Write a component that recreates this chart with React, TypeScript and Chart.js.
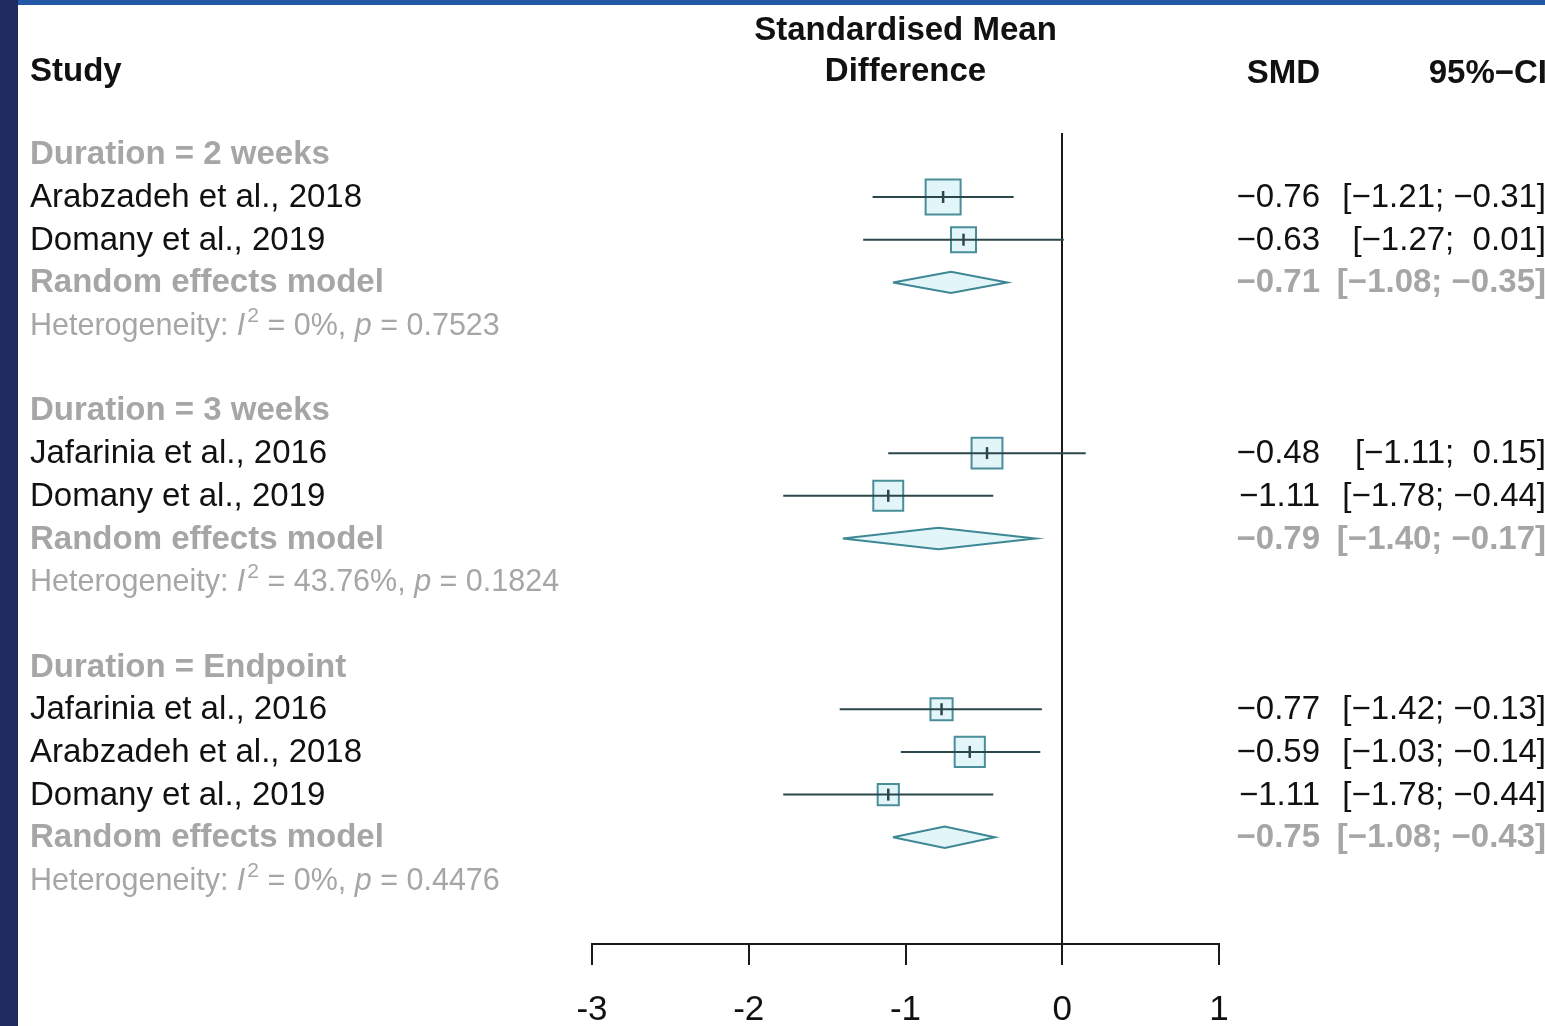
import React, { useEffect, useRef } from "react";
import { Chart, registerables } from "chart.js";

Chart.register(...registerables);

// ---------- data ----------
const titleLines = ["Standardised Mean", "Difference"];
const columnHeaders = ["Study", "SMD", "95%\u2212CI"];
const groupLabels = ["Duration = 2 weeks", "Duration = 3 weeks", "Duration = Endpoint"];
const pooledLabel = "Random effects model";
const studyLabels = [
  "Arabzadeh et al., 2018",
  "Domany et al., 2019",
  "Jafarinia et al., 2016",
  "Domany et al., 2019",
  "Jafarinia et al., 2016",
  "Arabzadeh et al., 2018",
  "Domany et al., 2019",
];
const studyGroup = [0, 0, 1, 1, 2, 2, 2];
const studySMD = [-0.76, -0.63, -0.48, -1.11, -0.77, -0.59, -1.11];
const studyLower = [-1.21, -1.27, -1.11, -1.78, -1.42, -1.03, -1.78];
const studyUpper = [-0.31, 0.01, 0.15, -0.44, -0.13, -0.14, -0.44];
const studyWeight = [66.2, 33.8, 51.6, 48.4, 26.5, 49.3, 24.2];
const pooledSMD = [-0.71, -0.79, -0.75];
const pooledLower = [-1.08, -1.4, -1.08];
const pooledUpper = [-0.35, -0.17, -0.43];
const hetI2 = ["0%", "43.76%", "0%"];
const hetP = ["0.7523", "0.1824", "0.4476"];
const xTickValues = [-3, -2, -1, 0, 1];

// ---------- styles ----------
const FONT = '"Liberation Sans", Arial, Helvetica, sans-serif';
const BLACK = "#111111";
const GRAY = "#a6a6a6";
const BOX_FILL = "#e2f5f9";
const BOX_EDGE = "#4a8e9a";
const CI_COLOR = "#2c474c";
const AXIS_COLOR = "#1a1a1a";

const MINUS = "\u2212";
const smdText = (v: number) => (v < 0 ? MINUS : "") + Math.abs(v).toFixed(2);
const padText = (v: number) => (v < 0 ? MINUS : " ") + Math.abs(v).toFixed(2);
const ciText = (lo: number, hi: number) => "[" + smdText(lo) + "; " + padText(hi) + "]";

// ---------- row layout ----------
const groupRow: number[] = [];
const studyRow: number[] = [];
const pooledRow: number[] = [];
const hetRow: number[] = [];
let rowCursor = 0;
groupLabels.forEach((_, gi) => {
  if (gi > 0) rowCursor++; // blank spacer row between subgroups
  groupRow.push(rowCursor++);
  studyLabels.forEach((__, si) => {
    if (studyGroup[si] === gi) studyRow[si] = rowCursor++;
  });
  pooledRow.push(rowCursor++);
  hetRow.push(rowCursor++);
});
const yMin = -0.5;
const yMax = rowCursor + 0.5;

const textPlugin = {
  id: "forestText",
  afterDraw(chart: any) {
    const { ctx, chartArea } = chart;
    const ys = chart.scales.y;
    const cx = (chartArea.left + chartArea.right) / 2;
    const labelX = 30;
    const smdRight = 1320;
    const ciRight = 1547;
    const bold = `bold 33px ${FONT}`;
    const reg = `33px ${FONT}`;
    const het = `30.5px ${FONT}`;
    const hetIt = `italic 30.5px ${FONT}`;
    const sup = `21px ${FONT}`;
    const base = (r: number) => ys.getPixelForValue(r) + 10;

    ctx.save();
    ctx.textBaseline = "alphabetic";
    const draw = (t: string, x: number, y: number, font: string, color: string, align: CanvasTextAlign = "left") => {
      ctx.font = font;
      ctx.fillStyle = color;
      ctx.textAlign = align;
      ctx.fillText(t, x, y);
      return ctx.measureText(t).width;
    };

    draw(titleLines[0], cx, 40, bold, BLACK, "center");
    draw(titleLines[1], cx, 81, bold, BLACK, "center");
    draw(columnHeaders[0], labelX, 81, bold, BLACK);
    draw(columnHeaders[1], smdRight, 83, bold, BLACK, "right");
    draw(columnHeaders[2], ciRight, 83, bold, BLACK, "right");

    groupLabels.forEach((g, gi) => {
      draw(g, labelX, base(groupRow[gi]), bold, GRAY);
      draw(pooledLabel, labelX, base(pooledRow[gi]), bold, GRAY);
      draw(smdText(pooledSMD[gi]), smdRight, base(pooledRow[gi]), bold, GRAY, "right");
      draw(ciText(pooledLower[gi], pooledUpper[gi]), ciRight - 1, base(pooledRow[gi]), bold, GRAY, "right");
      // heterogeneity
      const hy = base(hetRow[gi]);
      let x = labelX;
      x += draw("Heterogeneity: ", x, hy, het, GRAY);
      x += draw("I", x, hy, hetIt, GRAY);
      x += 2;
      x += draw("2", x, hy - 13, sup, GRAY);
      x += draw(" = " + hetI2[gi] + ", ", x, hy, het, GRAY);
      x += draw("p", x, hy, hetIt, GRAY);
      draw(" = " + hetP[gi], x, hy, het, GRAY);
    });

    studyLabels.forEach((s, si) => {
      const y = base(studyRow[si]);
      draw(s, labelX, y, reg, BLACK);
      draw(smdText(studySMD[si]), smdRight, y, reg, BLACK, "right");
      draw(ciText(studyLower[si], studyUpper[si]), ciRight - 1, y, reg, BLACK, "right");
    });
    ctx.restore();
  },
};

export default function App() {
  const ref = useRef<HTMLCanvasElement>(null);

  useEffect(() => {
    if (!ref.current) return;
    const datasets: any[] = [];

    // squares (size from study weight)
    datasets.push({
      type: "scatter",
      data: studySMD.map((v, i) => ({ x: v, y: studyRow[i] })),
      pointStyle: "rect",
      pointRadius: studyWeight.map((w) => 3.04 * Math.sqrt(w)),
      pointHoverRadius: studyWeight.map((w) => 3.04 * Math.sqrt(w)),
      backgroundColor: BOX_FILL,
      borderColor: BOX_EDGE,
      borderWidth: 2,
      order: 3,
    });

    // confidence intervals
    studySMD.forEach((_, i) => {
      datasets.push({
        type: "line",
        data: [
          { x: studyLower[i], y: studyRow[i] },
          { x: studyUpper[i], y: studyRow[i] },
        ],
        borderColor: CI_COLOR,
        borderWidth: 2,
        pointRadius: 0,
        fill: false,
        order: 2,
      });
    });

    // estimate ticks
    datasets.push({
      type: "scatter",
      data: studySMD.map((v, i) => ({ x: v, y: studyRow[i] })),
      pointStyle: "line",
      rotation: 90,
      pointRadius: 6,
      borderColor: CI_COLOR,
      borderWidth: 2.5,
      order: 1,
    });

    // pooled diamonds
    pooledSMD.forEach((m, gi) => {
      const r = pooledRow[gi];
      datasets.push({
        type: "line",
        data: [
          { x: pooledLower[gi], y: r },
          { x: m, y: r - 0.25 },
          { x: pooledUpper[gi], y: r },
          { x: m, y: r + 0.25 },
          { x: pooledLower[gi], y: r },
        ],
        borderColor: "#3e8794",
        backgroundColor: BOX_FILL,
        borderWidth: 2,
        pointRadius: 0,
        tension: 0,
        fill: "shape",
        order: 2,
      });
    });

    const chart = new Chart(ref.current, {
      type: "scatter",
      data: { datasets },
      options: {
        animation: false,
        responsive: false,
        devicePixelRatio: 1,
        layout: { padding: { left: 592, right: 326, top: 133, bottom: 0 } },
        plugins: {
          legend: { display: false },
          tooltip: { enabled: false },
          title: { display: false },
        },
        events: [],
        scales: {
          x: {
            type: "linear",
            min: -3,
            max: 1,
            afterBuildTicks: (s: any) => {
              s.ticks = xTickValues.map((v) => ({ value: v }));
            },
            border: { display: true, color: AXIS_COLOR, width: 2 },
            grid: {
              drawOnChartArea: true,
              drawTicks: true,
              tickLength: 21,
              tickWidth: 2,
              tickColor: AXIS_COLOR,
              lineWidth: 2,
              color: (c: any) => (c.tick && c.tick.value === 0 ? AXIS_COLOR : "rgba(0,0,0,0)"),
            },
            ticks: {
              color: BLACK,
              font: { family: FONT, size: 35 },
              padding: 24,
              autoSkip: false,
              maxRotation: 0,
            },
          },
          y: {
            type: "linear",
            display: false,
            reverse: true,
            min: yMin,
            max: yMax,
          },
        },
      },
      plugins: [textPlugin],
    } as any);

    return () => chart.destroy();
  }, []);

  return (
    <div
      style={{
        position: "fixed",
        left: 0,
        top: 0,
        width: 1545,
        height: 1026,
        overflow: "hidden",
        background: "#ffffff",
      }}
    >
      <canvas
        ref={ref}
        width={1545}
        height={1055}
        style={{ position: "absolute", left: 0, top: 0, width: 1545, height: 1055, display: "block" }}
      />
      <div style={{ position: "absolute", left: 0, top: 0, width: 18, height: 1026, background: "#1f2a5f" }} />
      <div style={{ position: "absolute", left: 18, top: 0, width: 1527, height: 5, background: "#2358a6" }} />
    </div>
  );
}
